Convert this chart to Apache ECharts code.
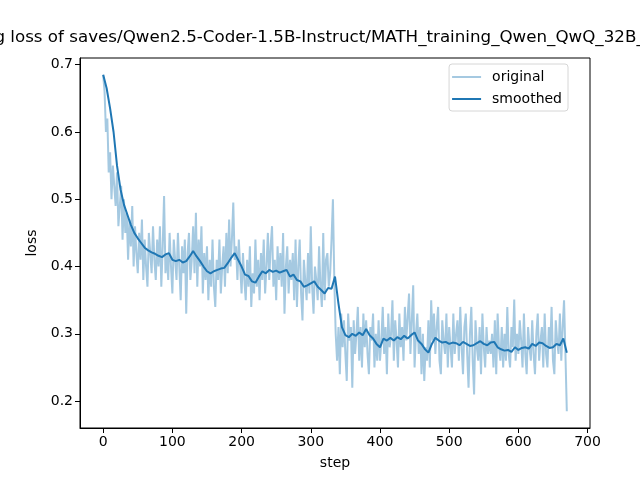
<!DOCTYPE html>
<html lang="en">
<head>
    <meta charset="UTF-8">
    <title>training loss</title>
    <style>
        html, body { margin: 0; padding: 0; background: #fff; }
    </style>
</head>
<body>
<div id="chart" style="width: 640px;height:480px;"></div>

<script src="https://cdn.jsdelivr.net/npm/echarts@6/dist/echarts.min.js"></script>
<script>
    // raw loss, read every 2 steps (0 .. 670)
    const originalLoss = [
        0.685, 0.66, 0.60, 0.62, 0.54, 0.57, 0.50, 0.55, 0.52, 0.49,
        0.54, 0.46, 0.49, 0.52, 0.44, 0.50, 0.45, 0.48, 0.41, 0.47,
        0.43, 0.49, 0.40, 0.46, 0.42, 0.39, 0.45, 0.41, 0.47, 0.38,
        0.44, 0.40, 0.37, 0.45, 0.42, 0.39, 0.46, 0.41, 0.38, 0.44,
        0.40, 0.46, 0.37, 0.43, 0.505, 0.39, 0.42, 0.38, 0.45, 0.40,
        0.36, 0.44, 0.41, 0.38, 0.45, 0.40, 0.35, 0.43, 0.39, 0.44,
        0.33, 0.42, 0.45, 0.38, 0.41, 0.46, 0.39, 0.48, 0.37, 0.44,
        0.40, 0.46, 0.36, 0.42, 0.38, 0.43, 0.35, 0.41, 0.37, 0.44,
        0.37, 0.34, 0.41, 0.38, 0.44, 0.36, 0.40, 0.43, 0.37, 0.45,
        0.39, 0.47, 0.40, 0.44, 0.495, 0.41, 0.43, 0.38, 0.44, 0.40,
        0.36, 0.42, 0.38, 0.35, 0.41, 0.37, 0.43, 0.34, 0.39, 0.36,
        0.44, 0.37, 0.41, 0.35, 0.42, 0.38, 0.44, 0.36, 0.40, 0.45,
        0.38, 0.43, 0.46, 0.37, 0.41, 0.35, 0.43, 0.38, 0.42, 0.37,
        0.45, 0.33, 0.40, 0.43, 0.36, 0.41, 0.38, 0.42, 0.35, 0.44,
        0.34, 0.40, 0.44, 0.36, 0.32, 0.41, 0.38, 0.35, 0.42, 0.36,
        0.46, 0.37, 0.33, 0.40, 0.38, 0.35, 0.43, 0.37, 0.34, 0.45,
        0.35, 0.41, 0.42, 0.37, 0.39, 0.44, 0.50, 0.38, 0.30, 0.26,
        0.31, 0.24, 0.33, 0.28, 0.32, 0.27, 0.23, 0.33, 0.29, 0.31,
        0.22, 0.32, 0.27, 0.30, 0.34, 0.26, 0.31, 0.25, 0.33, 0.28,
        0.32, 0.27, 0.24, 0.31, 0.29, 0.33, 0.25, 0.30, 0.26, 0.32,
        0.26, 0.29, 0.34, 0.27, 0.31, 0.24, 0.33, 0.28, 0.30, 0.35,
        0.26, 0.32, 0.29, 0.25, 0.33, 0.28, 0.31, 0.26, 0.34, 0.29,
        0.29, 0.36, 0.27, 0.32, 0.372, 0.25, 0.30, 0.33, 0.27, 0.31,
        0.24, 0.30, 0.23, 0.28, 0.26, 0.32, 0.25, 0.35, 0.29, 0.33,
        0.27, 0.31, 0.34, 0.26, 0.24, 0.32, 0.29, 0.27, 0.33, 0.25,
        0.31, 0.28, 0.25, 0.33, 0.27, 0.30, 0.32, 0.26, 0.34, 0.28,
        0.24, 0.31, 0.33, 0.27, 0.22, 0.30, 0.34, 0.26, 0.21, 0.32,
        0.28, 0.26, 0.31, 0.24, 0.33, 0.28, 0.25, 0.31, 0.27, 0.29,
        0.27, 0.30, 0.25, 0.32, 0.24, 0.33, 0.28, 0.26, 0.31, 0.25,
        0.30, 0.26, 0.34, 0.27, 0.25, 0.31, 0.28, 0.351, 0.26, 0.30,
        0.27, 0.32, 0.29, 0.25, 0.33, 0.27, 0.24, 0.31, 0.28, 0.26,
        0.32, 0.27, 0.24, 0.30, 0.33, 0.26, 0.29, 0.31, 0.25, 0.33,
        0.27, 0.25, 0.31, 0.28, 0.34, 0.26, 0.24, 0.32, 0.29, 0.27,
        0.33, 0.26, 0.31, 0.35, 0.27, 0.185
    ];
    const originalStep = 2;

    // smoothed loss, read every 5 steps (0 .. 670)
    const smoothedLoss = [
        0.685, 0.665, 0.635, 0.60, 0.55, 0.515, 0.492, 0.477, 0.462, 0.45,
        0.442, 0.435, 0.428, 0.424, 0.421, 0.419, 0.416, 0.414, 0.418, 0.42,
        0.41, 0.408, 0.41, 0.406, 0.408, 0.415, 0.423, 0.415, 0.408, 0.40,
        0.393, 0.39, 0.393, 0.395, 0.397, 0.398, 0.405, 0.413, 0.42, 0.41,
        0.40, 0.388, 0.386, 0.378, 0.376, 0.385, 0.393, 0.39, 0.395, 0.392,
        0.394, 0.391, 0.393, 0.395, 0.385, 0.388, 0.38, 0.378, 0.37, 0.372,
        0.375, 0.378, 0.37, 0.365, 0.36, 0.368, 0.367, 0.385, 0.345, 0.31,
        0.298, 0.295, 0.30, 0.297, 0.302, 0.298, 0.307, 0.298, 0.293, 0.285,
        0.28, 0.293, 0.29, 0.294, 0.29, 0.295, 0.292, 0.297, 0.293, 0.298,
        0.302, 0.29, 0.285, 0.277, 0.272, 0.285, 0.294, 0.29, 0.287, 0.288,
        0.285, 0.287, 0.286, 0.283, 0.288, 0.285, 0.282, 0.283, 0.286, 0.289,
        0.285, 0.283, 0.287, 0.288, 0.28, 0.277, 0.275, 0.276, 0.273, 0.28,
        0.276, 0.279, 0.28, 0.278, 0.285, 0.282, 0.287, 0.286, 0.282, 0.279,
        0.28, 0.285, 0.283, 0.293, 0.272
    ];
    const smoothedStep = 5;

    const xTicks = [0, 100, 200, 300, 400, 500, 600, 700];
    const yTicks = [0.2, 0.3, 0.4, 0.5, 0.6, 0.7];

    const titleText = 'training loss of saves/Qwen2.5-Coder-1.5B-Instruct/MATH_training_Qwen_QwQ_32B_full_sft';

    let myChart = echarts.init(document.getElementById('chart')),
        font = 'DejaVu Sans',
        originalData = originalLoss.map((v, i) => [i * originalStep, v]),
        smoothedData = smoothedLoss.map((v, i) => [i * smoothedStep, v]);

    let option = {
        animation: false,
        backgroundColor: '#fff',
        title: {
            text: titleText,
            left: 'center',
            top: 24,
            textStyle: {
                fontFamily: font,
                fontSize: 16.7,
                fontWeight: 'normal',
                color: '#000'
            }
        },
        legend: {
            orient: 'vertical',
            right: 72,
            top: 64,
            icon: 'rect',
            itemWidth: 29,
            itemHeight: 2,
            itemGap: 8,
            padding: [6, 6, 5, 3],
            backgroundColor: '#fff',
            borderColor: '#d6d6d6',
            borderWidth: 1,
            borderRadius: 3,
            textStyle: {
                fontFamily: font,
                fontSize: 14,
                color: '#000',
                padding: [0, 0, 0, 6]
            },
            data: ['original', 'smoothed']
        },
        grid: {
            left: 80,
            right: 50,
            top: 58,
            bottom: 52,
            show: true,
            borderColor: '#000',
            borderWidth: 1,
            containLabel: false
        },
        xAxis: {
            type: 'value',
            min: -33.5,
            max: 703.5,
            name: 'step',
            nameLocation: 'middle',
            nameGap: 28,
            nameTextStyle: { fontFamily: font, fontSize: 14, color: '#000' },
            splitLine: { show: false },
            axisLine: { show: true, onZero: false, lineStyle: { color: '#000' } },
            axisTick: {
                show: true,
                length: 5,
                lineStyle: { color: '#000' },
                customValues: xTicks
            },
            axisLabel: {
                fontFamily: font,
                fontSize: 14,
                color: '#000',
                margin: 7,
                customValues: xTicks
            }
        },
        yAxis: {
            type: 'value',
            min: 0.16,
            max: 0.71,
            name: 'loss',
            nameLocation: 'middle',
            nameGap: 37,
            nameTextStyle: { fontFamily: font, fontSize: 14, color: '#000' },
            splitLine: { show: false },
            axisLine: { show: true, onZero: false, lineStyle: { color: '#000' } },
            axisTick: {
                show: true,
                length: 5,
                lineStyle: { color: '#000' },
                customValues: yTicks
            },
            axisLabel: {
                fontFamily: font,
                fontSize: 14,
                color: '#000',
                margin: 7,
                formatter: v => v.toFixed(1),
                customValues: yTicks
            }
        },
        series: [
            {
                name: 'original',
                type: 'line',
                data: originalData,
                symbol: 'none',
                color: 'rgba(31,119,180,0.4)',
                lineStyle: { width: 2, color: 'rgba(31,119,180,0.4)' }
            },
            {
                name: 'smoothed',
                type: 'line',
                data: smoothedData,
                symbol: 'none',
                color: '#1f77b4',
                lineStyle: { width: 2, color: '#1f77b4' }
            }
        ]
    };
    myChart.setOption(option);
</script>
</body>
</html>
